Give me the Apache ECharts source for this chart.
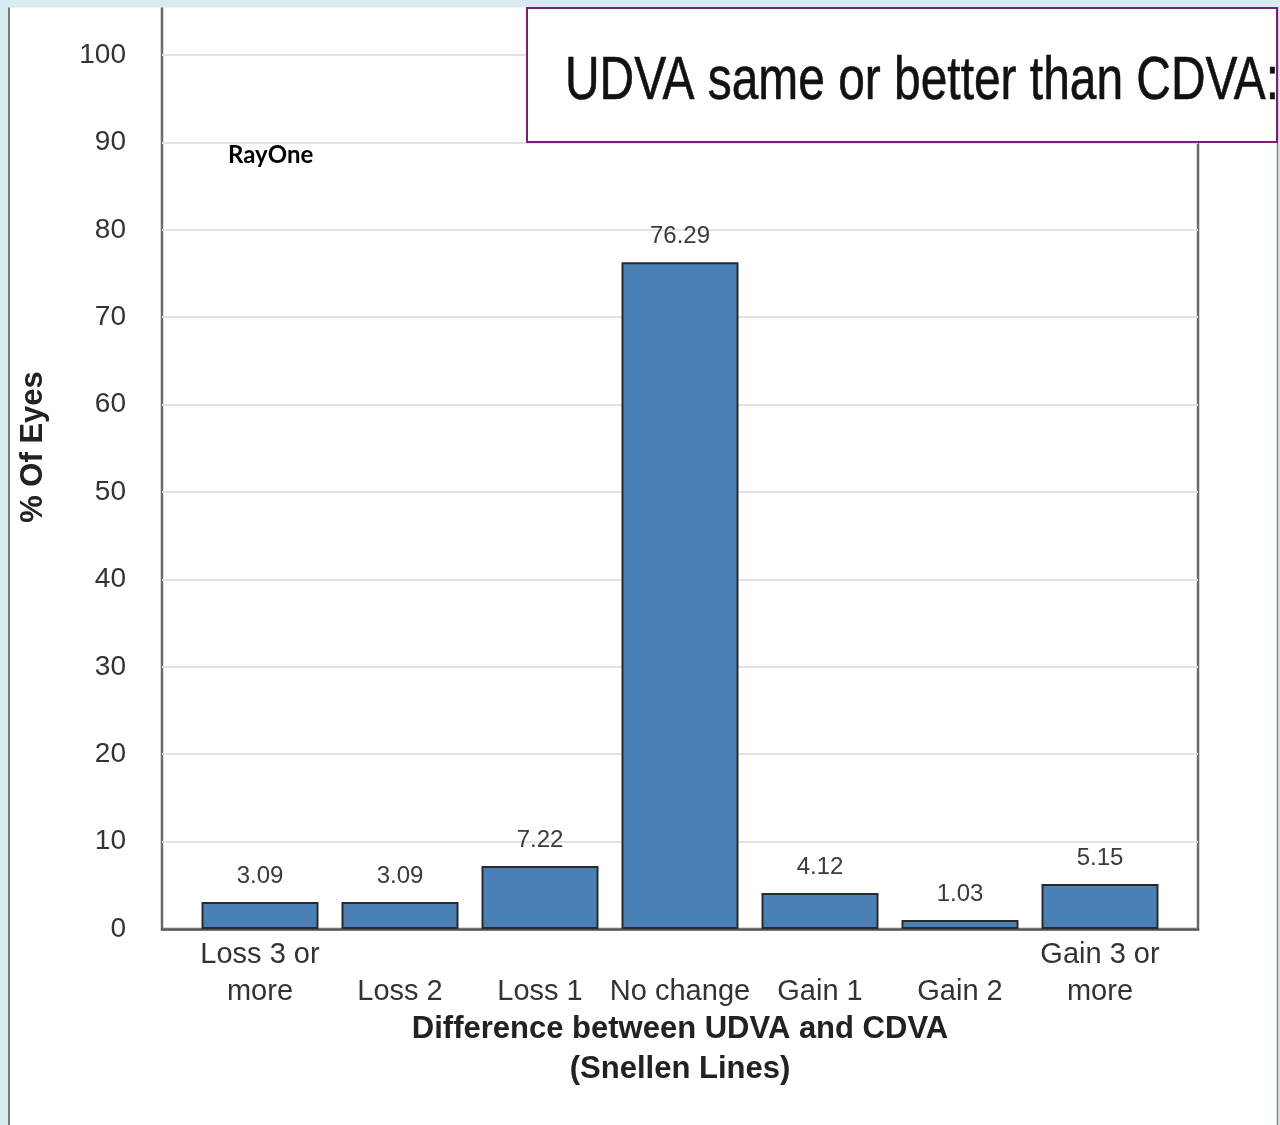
<!DOCTYPE html>
<html>
<head>
<meta charset="utf-8">
<script src="https://cdn.jsdelivr.net/npm/echarts@6/dist/echarts.min.js"></script>
<style>
  html, body { margin: 0; padding: 0; background: #d8ebf1; }
  #chart { width: 1280px; height: 1125px; }
</style>
</head>
<body>
<div id="chart"></div>
<script>
// Change in Snellen lines between uncorrected and corrected distance acuity
const categories = ['Loss 3 or\nmore', 'Loss 2', 'Loss 1', 'No change', 'Gain 1', 'Gain 2', 'Gain 3 or\nmore'];
const percentEyes = [3.09, 3.09, 7.22, 76.29, 4.12, 1.03, 5.15];
const yTicks = [0, 10, 20, 30, 40, 50, 60, 70, 80, 90, 100];

const FONT = '"Liberation Sans", Arial, sans-serif';
const yMax = 105.84;

const chart = echarts.init(document.getElementById('chart'));

chart.setOption({
  backgroundColor: '#d8ebf1',
  animation: false,
  grid: [
    // frame with gridlines and tick labels
    { left: 162, right: 82, top: 4, bottom: 196, show: true, borderColor: '#6a6a6a', borderWidth: 2.5, backgroundColor: 'transparent' },
    // inner band holding the bars
    { left: 190, right: 110, top: 4, bottom: 196 }
  ],
  xAxis: [
    {
      gridIndex: 0, type: 'value', min: 0, max: 1,
      axisLine: { show: true, lineStyle: { color: '#555', width: 2.5 } },
      axisTick: { show: false },
      axisLabel: { show: false },
      splitLine: { show: false }
    },
    {
      gridIndex: 1,
      type: 'category',
      data: categories,
      axisLine: { show: false },
      axisTick: { show: false },
      axisLabel: {
        interval: 0,
        fontFamily: FONT,
        fontSize: 29,
        lineHeight: 37,
        color: '#333',
        verticalAlign: 'bottom',
        margin: 81
      },
      name: 'Difference between UDVA and CDVA\n(Snellen Lines)',
      nameLocation: 'middle',
      nameMoveOverlap: false,
      nameGap: 80,
      nameTextStyle: {
        fontFamily: FONT,
        fontWeight: 'bold',
        fontSize: 31,
        lineHeight: 40,
        color: '#222'
      }
    }
  ],
  yAxis: [
    {
      gridIndex: 0,
      type: 'value',
      min: 0,
      max: yMax,
      interval: 10,
      axisLine: { show: false },
      axisTick: { show: false },
      axisLabel: {
        fontFamily: FONT,
        fontSize: 28,
        color: '#333',
        margin: 36,
        showMaxLabel: false,
        formatter: v => (yTicks.indexOf(v) >= 0 ? String(v) : '')
      },
      splitLine: { lineStyle: { color: '#e2e2e2', width: 2 } }
    },
    { gridIndex: 1, type: 'value', min: 0, max: yMax, show: false }
  ],
  series: [
    {
      type: 'bar',
      xAxisIndex: 1,
      yAxisIndex: 1,
      data: percentEyes,
      barWidth: 117,
      itemStyle: { color: '#4a80b6', borderColor: '#2a2a2a', borderWidth: 2 },
      label: {
        show: true,
        position: 'top',
        distance: 14,
        fontFamily: FONT,
        fontSize: 24,
        color: '#3a3a3a',
        formatter: p => p.value.toFixed(2)
      },
      z: 3
    }
  ],
  graphic: [
    // white page panel
    { type: 'rect', z: -10, shape: { x: 9, y: 7, width: 1269, height: 1125 }, style: { fill: '#ffffff' } },
    { type: 'line', z: 100, shape: { x1: 9, y1: 7, x2: 9, y2: 1125 }, style: { stroke: '#777', lineWidth: 2 } },
    { type: 'line', z: 100, shape: { x1: 1277.5, y1: 7, x2: 1277.5, y2: 1125 }, style: { stroke: '#888', lineWidth: 1.5 } },
    // top strip hides the frame's upper edge
    { type: 'rect', z: 100, shape: { x: 0, y: 0, width: 1280, height: 7.5 }, style: { fill: '#d8ebf1' } },
    // y axis title
    {
      type: 'text', z: 100, x: 33, y: 447, rotation: Math.PI / 2,
      style: { text: '% Of Eyes', font: 'bold 31px ' + FONT, fill: '#222', textAlign: 'center', textVerticalAlign: 'middle' }
    },
    // lens label
    {
      type: 'text', z: 100, x: 228, y: 155,
      style: { text: 'RayOne', font: 'bold 24px Lato, "Open Sans", sans-serif', fill: '#000', textAlign: 'left', textVerticalAlign: 'middle' }
    },
    // headline box
    {
      type: 'rect', z: 110, shape: { x: 527, y: 8, width: 750, height: 134 },
      style: { fill: '#ffffff', stroke: '#7a1e7a', lineWidth: 2 }
    },
    {
      type: 'text', z: 120, x: 565, y: 82, scaleX: 0.785,
      style: { text: 'UDVA same or better than CDVA:', font: '61px ' + FONT, fill: '#111', textAlign: 'left', textVerticalAlign: 'middle', stroke: '#111', lineWidth: 0.6 }
    }
  ]
});
</script>
</body>
</html>
